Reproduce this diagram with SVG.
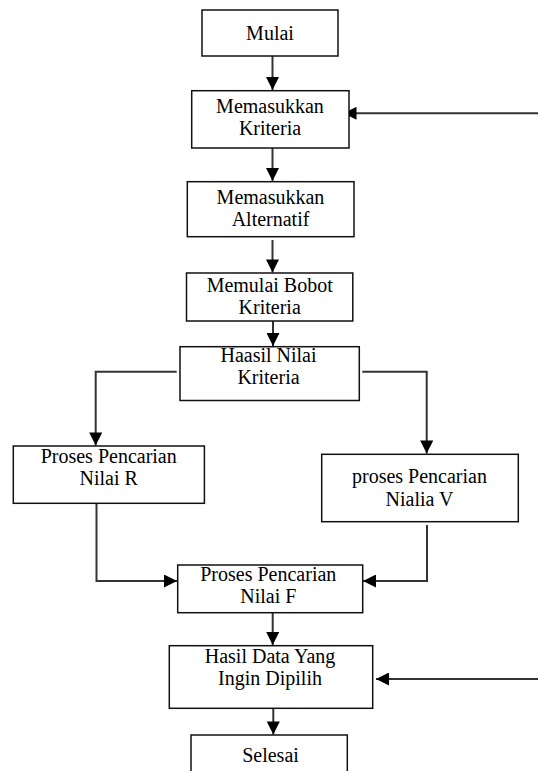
<svg xmlns="http://www.w3.org/2000/svg" width="538" height="771" viewBox="0 0 538 771">
<style>
.box{fill:#fff;stroke:#111;stroke-width:1.5}
.lbl{font-family:'Liberation Serif',Tinos,'Times New Roman','Nimbus Roman','DejaVu Serif',serif;font-size:20px;fill:#000;text-anchor:middle}
.con{fill:none;stroke:#333;stroke-width:2}
</style>
<defs>
<marker id="ah" viewBox="0 0 14 14" refX="14" refY="7" markerWidth="14" markerHeight="13" markerUnits="userSpaceOnUse" orient="auto">
<path d="M0,0 L14,7 L0,14 Z" fill="#000"/>
</marker>
</defs>
<rect width="538" height="771" fill="#fff"/>
<g id="connectors">
<path class="con" d="M272.5,56 V90" marker-end="url(#ah)"/>
<path class="con" d="M538,113.3 H343.5" marker-end="url(#ah)"/>
<path class="con" d="M272.5,148 V181" marker-end="url(#ah)"/>
<path class="con" d="M272.5,240 V272.5" marker-end="url(#ah)"/>
<path class="con" d="M273,321 V346" marker-end="url(#ah)"/>
<path class="con" d="M176.7,371.7 H95.7 V445.5" marker-end="url(#ah)"/>
<path class="con" d="M362.3,371.7 H426.7 V453.5" marker-end="url(#ah)"/>
<path class="con" d="M96.5,503.3 V581 H177" marker-end="url(#ah)"/>
<path class="con" d="M427,525 V581 H363" marker-end="url(#ah)"/>
<path class="con" d="M272.7,612.7 V645" marker-end="url(#ah)"/>
<path class="con" d="M538,679 H376" marker-end="url(#ah)"/>
<path class="con" d="M273.3,708.3 V734.5" marker-end="url(#ah)"/>
</g>
<g id="mulai">
<rect class="box" x="202" y="10" width="136" height="46"/>
<text class="lbl" x="270" y="40" font-family="Liberation Serif, serif">Mulai</text>
</g>
<g id="memasukkan-kriteria">
<rect class="box" x="191.7" y="90.7" width="157.3" height="57.3"/>
<text class="lbl" x="270" y="113">Memasukkan</text>
<text class="lbl" x="270" y="135">Kriteria</text>
</g>
<g id="memasukkan-alternatif">
<rect class="box" x="187.3" y="181.7" width="166.7" height="55"/>
<text class="lbl" x="270.5" y="204">Memasukkan</text>
<text class="lbl" x="270.5" y="226">Alternatif</text>
</g>
<g id="memulai-bobot">
<rect class="box" x="186.5" y="273" width="166.3" height="48"/>
<text class="lbl" x="269.7" y="292">Memulai Bobot</text>
<text class="lbl" x="269.7" y="314">Kriteria</text>
</g>
<g id="haasil-nilai">
<rect class="box" x="180" y="346.7" width="179.3" height="53.8"/>
<text class="lbl" x="268.5" y="362">Haasil Nilai</text>
<text class="lbl" x="268.5" y="384">Kriteria</text>
</g>
<g id="nilai-r">
<rect class="box" x="13.3" y="446" width="191.1" height="57.3"/>
<text class="lbl" x="108.7" y="462.7">Proses Pencarian</text>
<text class="lbl" x="108.7" y="485">Nilai R</text>
</g>
<g id="nilai-v">
<rect class="box" x="321.7" y="454.3" width="196.6" height="67.4"/>
<text class="lbl" x="419.5" y="482.7">proses Pencarian</text>
<text class="lbl" x="419.5" y="505.5">Nialia V</text>
</g>
<g id="nilai-f">
<rect class="box" x="177.7" y="565" width="185" height="47.7"/>
<text class="lbl" x="268.3" y="580.7">Proses Pencarian</text>
<text class="lbl" x="268.3" y="603.3">Nilai F</text>
</g>
<g id="hasil-data">
<rect class="box" x="169.3" y="645.7" width="203.4" height="62.6"/>
<text class="lbl" x="270" y="663.3">Hasil Data Yang</text>
<text class="lbl" x="270" y="685">Ingin Dipilih</text>
</g>
<g id="selesai">
<rect class="box" x="191" y="735" width="156.3" height="50"/>
<text class="lbl" x="270.5" y="761.7">Selesai</text>
</g>
</svg>
